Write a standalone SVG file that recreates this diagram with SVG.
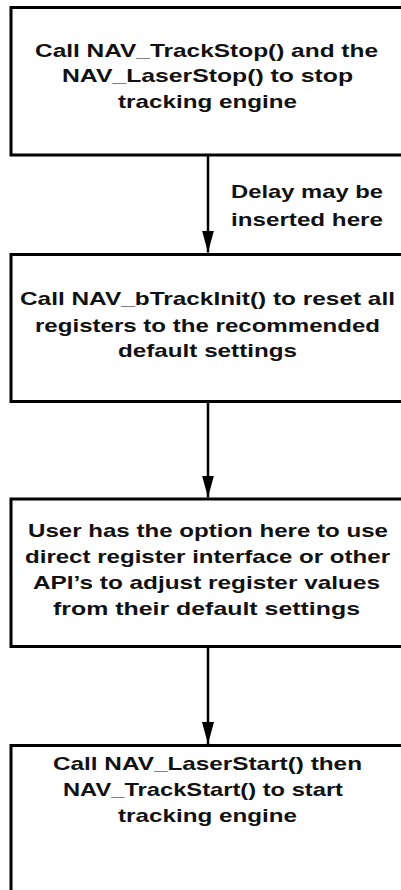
<svg xmlns="http://www.w3.org/2000/svg" width="401" height="890" viewBox="0 0 401 890">
<style>
.box{fill:#fff;stroke:#000;stroke-width:3}
.t{font-family:"Liberation Sans",Arial,sans-serif;font-size:19px;font-weight:bold;fill:#111}
.c{stroke:#000;stroke-width:2.5;fill:none}
</style>
<defs>
<marker id="ah" viewBox="0 0 22 12" refX="22" refY="6" markerWidth="22" markerHeight="12" markerUnits="userSpaceOnUse" orient="auto">
<path d="M0,0 L22,6 L0,12 Z" fill="#000"/>
</marker>
</defs>
<rect width="401" height="890" fill="#fff"/>
<g id="connectors">
<line class="c" x1="208" y1="155" x2="208" y2="252.5" marker-end="url(#ah)"/>
<line class="c" x1="208" y1="402" x2="208" y2="497.5" marker-end="url(#ah)"/>
<line class="c" x1="208" y1="647" x2="208" y2="744" marker-end="url(#ah)"/>
</g>
<g id="label">
<text class="t" x="231" y="198" textLength="152" lengthAdjust="spacingAndGlyphs">Delay may be</text>
<text class="t" x="231" y="226" textLength="152" lengthAdjust="spacingAndGlyphs">inserted here</text>
</g>
<g id="n1">
<rect class="box" x="11" y="7.5" width="410" height="147.5"/>
<text class="t" x="35" y="56.5" textLength="343" lengthAdjust="spacingAndGlyphs">Call NAV_TrackStop() and the</text>
<text class="t" x="62" y="82" textLength="291" lengthAdjust="spacingAndGlyphs">NAV_LaserStop() to stop</text>
<text class="t" x="118" y="108" textLength="179" lengthAdjust="spacingAndGlyphs">tracking engine</text>
</g>
<g id="n2">
<rect class="box" x="11" y="254.5" width="410" height="147"/>
<text class="t" x="20" y="305" textLength="375" lengthAdjust="spacingAndGlyphs">Call NAV_bTrackInit() to reset all</text>
<text class="t" x="35" y="331.5" textLength="345" lengthAdjust="spacingAndGlyphs">registers to the recommended</text>
<text class="t" x="118" y="357" textLength="179" lengthAdjust="spacingAndGlyphs">default settings</text>
</g>
<g id="n3">
<rect class="box" x="11" y="499" width="410" height="147.5"/>
<text class="t" x="28" y="536.5" textLength="360" lengthAdjust="spacingAndGlyphs">User has the option here to use</text>
<text class="t" x="25" y="563" textLength="365" lengthAdjust="spacingAndGlyphs">direct register interface or other</text>
<text class="t" x="33" y="588.5" textLength="347" lengthAdjust="spacingAndGlyphs">API’s to adjust register values</text>
<text class="t" x="53" y="614.5" textLength="307" lengthAdjust="spacingAndGlyphs">from their default settings</text>
</g>
<g id="n4">
<rect class="box" x="11" y="745.5" width="410" height="160"/>
<text class="t" x="53" y="769.5" textLength="309" lengthAdjust="spacingAndGlyphs">Call NAV_LaserStart() then</text>
<text class="t" x="63" y="796" textLength="280" lengthAdjust="spacingAndGlyphs">NAV_TrackStart() to start</text>
<text class="t" x="118" y="821.5" textLength="179" lengthAdjust="spacingAndGlyphs">tracking engine</text>
</g>
</svg>
